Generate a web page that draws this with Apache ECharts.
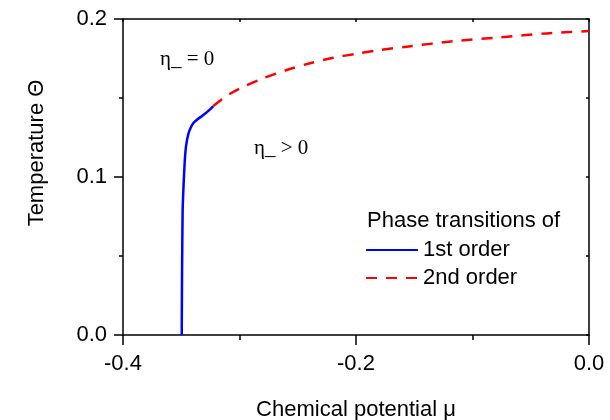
<!DOCTYPE html>
<html>
<head>
<meta charset="utf-8">
<script src="https://cdn.jsdelivr.net/npm/echarts@6/dist/echarts.min.js"></script>
<style>
html, body { margin: 0; padding: 0; background: #ffffff; }
#chart { width: 610px; height: 420px; }
</style>
</head>
<body>
<div id="chart"></div>
<script>
// 1st order transition line (solid blue)
var firstMu = [-0.3496, -0.3493, -0.3488, -0.3480, -0.3470, -0.3458, -0.3440, -0.3420, -0.3397, -0.3360, -0.3311, -0.3265, -0.3225]
var firstTheta = [0, 0.040, 0.079, 0.095, 0.110, 0.120, 0.127, 0.131, 0.134, 0.1365, 0.1392, 0.1420, 0.1449]
// 2nd order transition line (dashed red)
var secondMu = [-0.3225, -0.3110, -0.2996, -0.2796, -0.2595, -0.2395, -0.2195, -0.1994, -0.1794, -0.1565, -0.1165, -0.0764, -0.0363, 0]
var secondTheta = [0.1449, 0.1513, 0.1561, 0.1625, 0.1677, 0.1720, 0.1755, 0.1780, 0.1804, 0.1825, 0.1859, 0.1884, 0.1909, 0.1924]
var seriesNames = ['1st order', '2nd order']

function pairs (xs, ys) {
    return xs.map(function (x, i) { return [x, ys[i]] })
}

var font = 'Liberation Sans, Arial, sans-serif'
var serif = 'Liberation Serif, Times New Roman, serif'
var black = { color: '#000', width: 1.5 }

var chart = echarts.init(document.getElementById('chart'))
chart.setOption({
    animation: false,
    grid: { left: 123, right: 21, top: 19, bottom: 85, outerBoundsMode: 'none', containLabel: false },
    xAxis: [
        {
            type: 'value',
            min: -0.4,
            max: 0,
            interval: 0.2,
            name: 'Chemical potential μ',
            nameLocation: 'middle',
            nameGap: 64,
            nameTextStyle: { fontFamily: font, fontSize: 22, color: '#000' },
            axisLine: { onZero: false, lineStyle: black },
            axisTick: { inside: false, length: 10, lineStyle: black },
            minorTick: { show: true, splitNumber: 2, length: 5, lineStyle: black },
            axisLabel: {
                fontFamily: font, fontSize: 22, color: '#000', margin: 18,
                formatter: function (v) { return v.toFixed(1) }
            },
            splitLine: { show: false }
        },
        {
            type: 'value',
            position: 'top',
            min: -0.4,
            max: 0,
            interval: 0.2,
            axisLine: { onZero: false, lineStyle: black },
            axisTick: { inside: true, length: 3, lineStyle: black },
            minorTick: { show: true, splitNumber: 2, length: 3, lineStyle: black },
            axisLabel: { show: false },
            splitLine: { show: false }
        }
    ],
    yAxis: [
        {
            type: 'value',
            min: 0,
            max: 0.2,
            interval: 0.1,
            axisLine: { show: true, onZero: false, lineStyle: black },
            axisTick: { show: true, inside: false, length: 9, lineStyle: black },
            minorTick: { show: true, splitNumber: 2, length: 4, lineStyle: black },
            axisLabel: {
                fontFamily: font, fontSize: 22, color: '#000', margin: 16,
                formatter: function (v) { return v.toFixed(1) }
            },
            splitLine: { show: false }
        },
        {
            type: 'value',
            position: 'right',
            min: 0,
            max: 0.2,
            interval: 0.1,
            axisLine: { show: true, onZero: false, lineStyle: black },
            axisTick: { show: true, inside: true, length: 3, lineStyle: black },
            minorTick: { show: true, splitNumber: 2, length: 3, lineStyle: black },
            axisLabel: { show: false },
            splitLine: { show: false }
        }
    ],
    legend: {
        orient: 'vertical',
        left: 365,
        top: 239,
        padding: 0,
        itemWidth: 52,
        itemHeight: 14,
        itemGap: 6,
        itemStyle: { opacity: 0 },
        textStyle: { fontFamily: font, fontSize: 22, color: '#000' },
        data: seriesNames
    },
    graphic: [
        {
            type: 'text', left: 367, top: 210,
            style: { text: 'Phase transitions of', font: '22px ' + font, fill: '#000' }
        },
        {
            type: 'text', x: 37, y: 153, rotation: Math.PI / 2,
            style: { text: 'Temperature Θ', font: '22px ' + font, fill: '#000', align: 'center', verticalAlign: 'middle' }
        },
        {
            type: 'text', left: 160, top: 49,
            style: { text: 'η_ = 0', font: '21px ' + serif, fill: '#000' }
        },
        {
            type: 'text', left: 254, top: 138,
            style: { text: 'η_ > 0', font: '21px ' + serif, fill: '#000' }
        }
    ],
    series: [
        {
            name: seriesNames[0],
            type: 'line',
            showSymbol: false,
            symbol: 'none',
            smooth: 0.2,
            lineStyle: { color: '#0000ff', width: 2.5 },
            itemStyle: { color: '#0000ff' },
            data: pairs(firstMu, firstTheta)
        },
        {
            name: seriesNames[1],
            type: 'line',
            showSymbol: false,
            symbol: 'none',
            smooth: 0.3,
            lineStyle: { color: '#ff0000', width: 2.5, type: [11, 9] },
            itemStyle: { color: '#ff0000' },
            data: pairs(secondMu, secondTheta)
        }
    ]
})
</script>
</body>
</html>
